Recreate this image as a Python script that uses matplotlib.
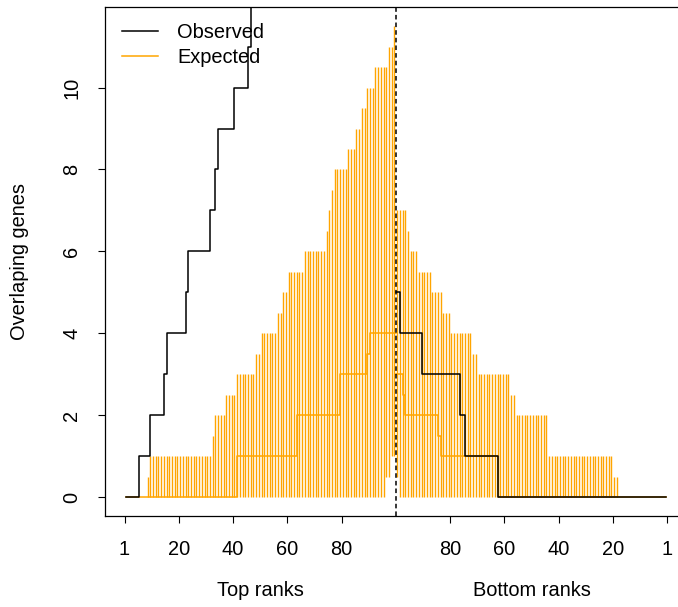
import numpy as np
import matplotlib
matplotlib.use("Agg")
import matplotlib.pyplot as plt
from matplotlib.lines import Line2D
from matplotlib.transforms import blended_transform_factory

plt.rcParams['font.family'] = ['Liberation Sans', 'DejaVu Sans']

# rank positions: 1..100 = top ranks, 101..200 = bottom ranks (mirrored)
positions = np.arange(1, 201)

# expected interval (upper / lower bound) per rank, as runs
upper_top_vals = [0, 0.5, 1, 1.5, 2, 2.5, 3, 3.5, 4, 4.5, 5, 5.5, 6, 6.5, 7, 7.5,
                  8, 8.5, 9, 9.5, 10, 10.5, 11, 11.5]
upper_top_runs = [8, 1, 23, 1, 4, 4, 7, 2, 6, 2, 2, 6, 8, 1, 1, 1,
                  5, 3, 2, 2, 3, 5, 2, 1]
upper_bot_vals = [7, 6.5, 6, 5.5, 5, 4.5, 4, 3.5, 3, 2.5, 2, 1, 0.5, 0]
upper_bot_runs = [4, 1, 3, 5, 4, 3, 8, 2, 12, 2, 12, 24, 2, 18]
lower_top_vals = [0, 0.5, 1]
lower_top_runs = [96, 2, 2]
lower_bot_vals = [0.5, 0]
lower_bot_runs = [1, 99]

# expected overlap (step lines, top half and bottom half)
expected_top_x = [1, 42, 64, 80, 90, 91, 100.5]
expected_top_y = [0, 1, 2, 3, 3.5, 4, 4]
expected_bot_x = [100.5, 103, 104, 116, 117, 138, 200]
expected_bot_y = [3, 2.5, 2, 1.5, 1, 0, 0]

# observed overlap (step lines)
observed_top_x = [1, 6, 10, 15, 16, 23, 24, 32, 34, 35, 41, 46, 47, 100.5]
observed_top_y = [0, 1, 2, 3, 4, 5, 6, 7, 8, 9, 10, 11, 14, 14]
observed_bot_x = [100.5, 102, 110, 124, 126, 138, 200]
observed_bot_y = [5, 4, 3, 2, 1, 0, 0]

tick_pos = [0.5, 20.5, 40.5, 60.5, 80.5, 120.5, 140.5, 160.5, 180.5, 200.5]
tick_labels = ['1', '20', '40', '60', '80', '80', '60', '40', '20', '1']

upper = np.concatenate([np.repeat(upper_top_vals, upper_top_runs),
                        np.repeat(upper_bot_vals, upper_bot_runs)])
lower = np.concatenate([np.repeat(lower_top_vals, lower_top_runs),
                        np.repeat(lower_bot_vals, lower_bot_runs)])

fig = plt.figure(figsize=(6.78, 6.07), dpi=100)
ax = fig.add_axes([105 / 678, 91 / 607, 583 / 678, 508.7 / 607])

keep = upper > lower
ax.vlines(positions[keep], lower[keep], upper[keep], color='orange', lw=1.0)
ax.step(expected_top_x, expected_top_y, where='post', color='orange', lw=1.1)
ax.step(expected_bot_x, expected_bot_y, where='post', color='orange', lw=1.1)
ax.step(observed_top_x, observed_top_y, where='post', color='black', lw=1.1)
ax.step(observed_bot_x, observed_bot_y, where='post', color='black', lw=1.1)
ax.axvline(100.5, color='black', lw=1.1, ls=(0, (3, 2)))

ax.set_xlim(-6.69, 208.2)
ax.set_ylim(-0.46, 11.96)
ax.set_xticks(tick_pos)
ax.set_xticklabels(tick_labels)
ax.set_yticks([0, 2, 4, 6, 8, 10])
ax.tick_params(direction='out', length=5, width=0.8, pad=12, labelsize=14.4)
ax.tick_params(axis='y', labelrotation=90)
for lab in ax.get_yticklabels():
    lab.set_va('center')
for sp in ax.spines.values():
    sp.set_linewidth(0.9)

tr = blended_transform_factory(ax.transData, fig.transFigure)
ax.text(50.5, 0.028, 'Top ranks', transform=tr, ha='center', va='center', fontsize=14.4)
ax.text(150.5, 0.028, 'Bottom ranks', transform=tr, ha='center', va='center', fontsize=14.4)
fig.text(20 / 678, 0.569, 'Overlaping genes', rotation=90, ha='center', va='center',
         fontsize=14.4)

handles = [Line2D([], [], color='black', lw=1.1), Line2D([], [], color='orange', lw=1.1)]
ax.legend(handles, ['Observed', 'Expected'], loc='upper left',
          bbox_to_anchor=(122 / 678, 1 - 23 / 607), bbox_transform=fig.transFigure,
          frameon=False, fontsize=14.4, handlelength=1.8, handletextpad=0.95,
          labelspacing=0.3, borderpad=0, borderaxespad=0)

fig.savefig('out.png', dpi=100)
